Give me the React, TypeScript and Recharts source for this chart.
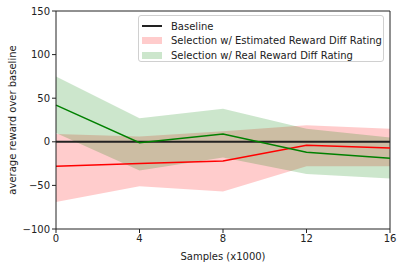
import React from 'react';
import {
  ComposedChart,
  Area,
  Line,
  XAxis,
  YAxis,
  ReferenceLine,
} from 'recharts';

const samples = [0, 4, 8, 12, 16];
const baseline = [0, 0, 0, 0, 0];
const estMean = [-28, -25, -22, -4, -7];
const estLow = [-69, -51, -57, -28, -28];
const estHigh = [9, 6, 12, 19, 15];
const realMean = [42, -1, 9, -12, -19];
const realLow = [10, -33, -18, -37, -42];
const realHigh = [75, 27, 38, 15, 5];

const xTicks = [0, 4, 8, 12, 16];
const yTicks = [-100, -50, 0, 50, 100, 150];

const data = samples.map((x, i) => ({
  x,
  baseline: baseline[i],
  estMean: estMean[i],
  estRange: [estLow[i], estHigh[i]],
  realMean: realMean[i],
  realRange: [realLow[i], realHigh[i]],
}));

const font = '"DejaVu Sans", sans-serif';
const tickStyle = { fontSize: 10, fill: '#222', fontFamily: font };

function LegendBox() {
  const rows = [
    { label: 'Baseline', kind: 'line', color: '#222' },
    { label: 'Selection w/ Estimated Reward Diff Rating', kind: 'patch', color: 'rgba(255,0,0,0.2)' },
    { label: 'Selection w/ Real Reward Diff Rating', kind: 'patch', color: 'rgba(0,128,0,0.2)' },
  ];
  return (
    <div
      style={{
        position: 'absolute',
        left: 138,
        top: 15,
        width: 246,
        height: 47,
        border: '1px solid #d0d0d0',
        borderRadius: 3,
        background: 'rgba(255,255,255,0.8)',
        fontFamily: font,
        fontSize: 10,
        color: '#222',
        boxSizing: 'border-box',
      }}
    >
      {rows.map((r, i) => (
        <div
          key={r.label}
          style={{ position: 'absolute', left: 3, top: 3 + i * 14.5, height: 14, display: 'flex', alignItems: 'center' }}
        >
          <div style={{ width: 20, display: 'flex', alignItems: 'center' }}>
            {r.kind === 'line' ? (
              <div style={{ width: 20, height: 2, background: r.color }} />
            ) : (
              <div style={{ width: 20, height: 7, background: r.color }} />
            )}
          </div>
          <span style={{ marginLeft: 9, whiteSpace: 'nowrap' }}>{r.label}</span>
        </div>
      ))}
    </div>
  );
}

export default function App() {
  return (
    <div style={{ position: 'absolute', left: 0, top: 0, width: 403, height: 266, background: '#fff' }}>
      <ComposedChart width={403} height={266} data={data} margin={{ top: 11, right: 13, bottom: 0, left: 0 }}>
        <XAxis
          dataKey="x"
          type="number"
          domain={[0, 16]}
          ticks={xTicks}
          tick={tickStyle}
          tickSize={4}
          tickMargin={2}
          height={37}
          stroke="#222"
          axisLine={{ stroke: '#222' }}
          label={{ value: 'Samples (x1000)', position: 'insideBottom', offset: 6, style: { fontSize: 10, fill: '#222', fontFamily: font } }}
        />
        <YAxis
          type="number"
          domain={[-100, 150]}
          ticks={yTicks}
          tick={tickStyle}
          tickSize={4}
          tickMargin={2}
          width={56}
          stroke="#222"
          tickFormatter={(v: number) => (v < 0 ? '\u2212' + Math.abs(v) : String(v))}
          label={{ value: 'average reward over baseline', angle: -90, position: 'center', dx: -16, style: { fontSize: 10, fill: '#222', fontFamily: font } }}
        />
        <ReferenceLine y={150} stroke="#222" />
        <ReferenceLine x={16} stroke="#222" />
        <Area dataKey="estRange" type="linear" stroke="none" fill="#ff0000" fillOpacity={0.2} isAnimationActive={false} />
        <Area dataKey="realRange" type="linear" stroke="none" fill="#008000" fillOpacity={0.2} isAnimationActive={false} />
        <Line dataKey="baseline" type="linear" stroke="#222" strokeWidth={2} dot={false} isAnimationActive={false} />
        <Line dataKey="estMean" type="linear" stroke="#ff0000" strokeWidth={1.5} dot={false} isAnimationActive={false} />
        <Line dataKey="realMean" type="linear" stroke="#008000" strokeWidth={1.5} dot={false} isAnimationActive={false} />
      </ComposedChart>
      <LegendBox />
    </div>
  );
}
